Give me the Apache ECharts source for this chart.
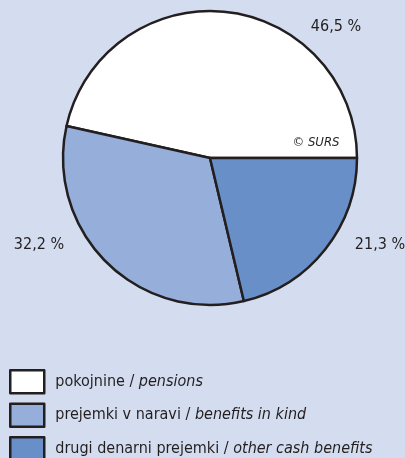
<!DOCTYPE html>
<html><head><meta charset="utf-8">
<script src="https://cdn.jsdelivr.net/npm/echarts@6/dist/echarts.min.js"></script>
<style>html,body{margin:0;padding:0;background:#d4ddef}#c{width:405px;height:458px}</style>
</head><body><div id="c"></div>
<script>
const categoriesSl = ['pokojnine', 'prejemki v naravi', 'drugi denarni prejemki'];
const categoriesEn = ['pensions', 'benefits in kind', 'other cash benefits'];
const shares = [46.5, 32.2, 21.3];
const colors = ['#ffffff', '#95afda', '#698fc8'];

const FONT = '"Liberation Sans Narrow", "DejaVu Sans Condensed", "Roboto", sans-serif';
const fmt = v => v.toFixed(1).replace('.', ',') + ' %';

const chart = echarts.init(document.getElementById('c'));
const labelPos = [[336, 27], [39, 245], [380, 245]];
chart.setOption({
  backgroundColor: '#d4ddef',
  animation: false,
  legend: {
    orient: 'vertical', left: 4, top: 364, height: 140,
    itemWidth: 34, itemHeight: 23, itemGap: 8,
    icon: 'rect',
    itemStyle: { borderColor: '#231f20', borderWidth: 2.5 },
    formatter: name => {
      const i = categoriesSl.indexOf(name);
      return '{a|' + categoriesSl[i] + ' / }{b|' + categoriesEn[i] + '}';
    },
    textStyle: {
      padding: [0, 0, 0, 6],
      rich: {
        a: { fontFamily: FONT, fontSize: 16, color: '#231f20' },
        b: { fontFamily: FONT, fontSize: 16, fontStyle: 'italic', color: '#231f20' }
      }
    },
    data: categoriesSl
  },
  series: [{
    type: 'pie',
    center: [210, 158],
    radius: [0, 147],
    startAngle: 0,
    clockwise: false,
    label: { show: false },
    labelLine: { show: false },
    emphasis: { disabled: true },
    itemStyle: { borderColor: '#231f20', borderWidth: 2.5 },
    data: shares.map((v, i) => ({ name: categoriesSl[i], value: v, itemStyle: { color: colors[i] } }))
  }],
  graphic: shares.map((v, i) => ({
    type: 'text', x: labelPos[i][0], y: labelPos[i][1], z: 100,
    style: { text: fmt(v), fontFamily: FONT, fontSize: 16, fill: '#231f20', align: 'center', verticalAlign: 'middle' }
  })).concat([{
    type: 'text', x: 316, y: 143, z: 100,
    style: { text: '© SURS', fontFamily: FONT, fontSize: 13, fontStyle: 'italic', fill: '#231f20', align: 'center', verticalAlign: 'middle' }
  }])
});
</script></body></html>
